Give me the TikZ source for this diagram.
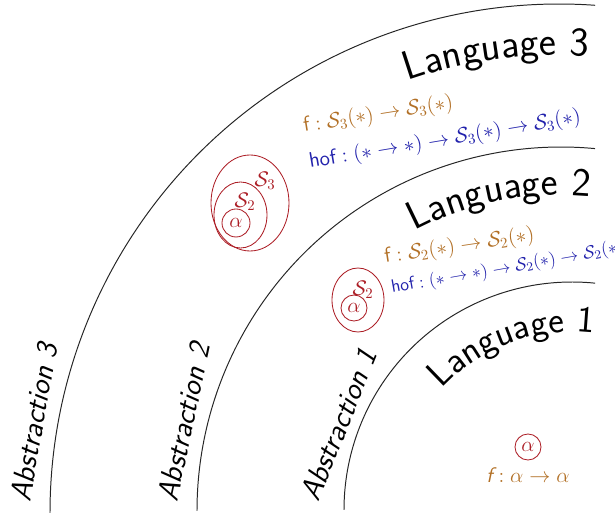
\RequirePackage{fix-cm}
\documentclass[tikz,border=0pt]{standalone}
\usepackage{amsmath,amssymb}
\usepackage{tikz}
\usetikzlibrary{decorations.text}
\definecolor{FunOrange}{RGB}{178,112,38}
\definecolor{HofBlue}{RGB}{34,34,172}
\definecolor{SetRed}{RGB}{172,30,38}
\tikzset{
  layer arc/.style={
    draw=black!85,
    line width=0.7pt
  },
  lang label/.style={
    decorate,
    decoration={text along path,text align=center,text={#1}}
  },
  abs label/.style={
    font=\sffamily\itshape\fontsize{21.5}{24}\selectfont,
    inner sep=0pt,
    anchor=base west
  },
  fun label/.style={
    text=FunOrange,
    font=\sffamily\fontsize{15}{17}\selectfont,
    inner sep=0pt,
    anchor=base west
  },
  hof label/.style={
    text=HofBlue,
    font=\sffamily\fontsize{15}{17}\selectfont,
    inner sep=0pt,
    anchor=base west
  },
  set line/.style={
    draw=SetRed,
    line width=0.6pt
  },
  set label/.style={
    text=SetRed,
    font=\fontsize{15}{17}\selectfont,
    inner sep=0pt
  },
  elem/.style={
    circle,
    draw=SetRed,
    line width=0.6pt,
    text=SetRed,
    inner sep=0pt,
    minimum size=0.7cm,
    font=\fontsize{15}{17}\selectfont
  }
}

\begin{document}
\begin{tikzpicture}
  \useasboundingbox (0,0) rectangle (15.375,12.85);

  \draw[layer arc] (8.6,0.1) arc[start angle=180,end angle=84.2,radius=5.7];
  \draw[layer arc] (4.925,0.075) arc[start angle=180,end angle=84.64,radius=9.1];
  \draw[layer arc] (1.25,0.025) arc[start angle=180,end angle=85.94,radius=12.725];

  \path[lang label={|\sffamily\fontsize{26.5}{29}\selectfont|Language 1}]
    (14.3,0.1) ++(140:4.45) arc[start angle=140,end angle=80,radius=4.45];
  \path[lang label={|\sffamily\fontsize{28.5}{31}\selectfont|Language 2}]
    (14.025,0.075) ++(125:7.9) arc[start angle=125,end angle=77.4,radius=7.9];
  \path[lang label={|\sffamily\fontsize{29}{32}\selectfont|Language 3}]
    (13.975,0.025) ++(115:11.45) arc[start angle=115,end angle=80.6,radius=11.45];

  \node[abs label,rotate=68] (abs1) at (7.95,0.275) {Abstraction 1};
  \node[abs label,rotate=78] (abs2) at (4.425,0.275) {Abstraction 2};
  \node[abs label,rotate=80] (abs3) at (0.75,0.275) {Abstraction 3};

  % language 1
  \node[elem,minimum size=0.65cm] (a1) at (13.2,1.675) {$\alpha$};
  \node[fun label,anchor=base] (f1) at (13.2,0.775) {$\textit{f} : \alpha \to \alpha$};

  % language 2
  \draw[set line] (8.95,5.35) ellipse[x radius=0.65,y radius=0.8];
  \node[elem,minimum size=0.65cm] (a2) at (8.85,5.15) {$\alpha$};
  \node[set label] (s22) at (9.075,5.6) {$\mathcal{S}_2$};
  \node[fun label,rotate=8.5] (f2) at (9.625,6.275) {$\textsf{f} : \mathcal{S}_2(\ast) \to \mathcal{S}_2(\ast)$};
  \node[hof label,rotate=10,font=\sffamily\fontsize{12.8}{15}\selectfont] (h2) at (9.8,5.525) {$\textsf{hof} : (\ast \to \ast) \to \mathcal{S}_2(\ast) \to \mathcal{S}_2(\ast)$};

  % language 3
  \draw[set line] (6.25,7.775) ellipse[x radius=0.975,y radius=1.2];
  \draw[set line] (6.0125,7.475) ellipse[x radius=0.6625,y radius=0.825];
  \node[elem] (a3) at (5.9,7.275) {$\alpha$};
  \node[set label] (s32) at (6.125,7.8) {$\mathcal{S}_2$};
  \node[set label] (s33) at (6.625,8.325) {$\mathcal{S}_3$};
  \node[fun label,rotate=9] (f3) at (7.6,9.55) {$\textsf{f} : \mathcal{S}_3(\ast) \to \mathcal{S}_3(\ast)$};
  \node[hof label,rotate=9.5] (h3) at (7.75,8.65) {$\textsf{hof} : (\ast \to \ast) \to \mathcal{S}_3(\ast) \to \mathcal{S}_3(\ast)$};
\end{tikzpicture}
\end{document}
